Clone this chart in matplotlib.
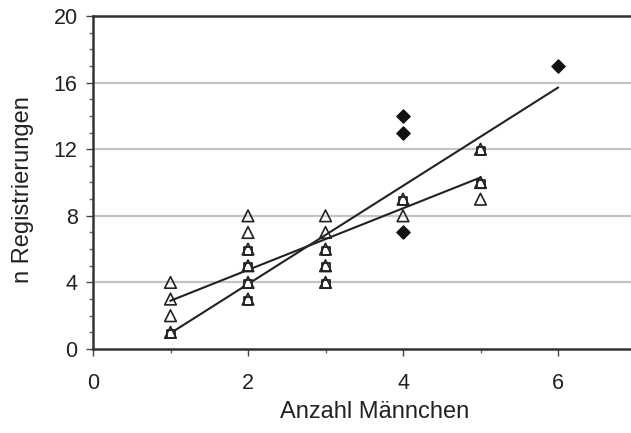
import matplotlib
matplotlib.use("Agg")
import matplotlib.pyplot as plt
import numpy as np

plt.rcParams['font.family'] = ['Liberation Sans', 'DejaVu Sans']

# Open triangles
tri_x = [1, 1, 1, 1, 2, 2, 2, 2, 2, 2, 3, 3, 3, 3, 3, 4, 4, 5, 5, 5]
tri_y = [1, 2, 3, 4, 3, 4, 5, 6, 7, 8, 4, 5, 6, 7, 8, 8, 9, 9, 10, 12]
# Open squares
sq_x = [1, 2, 2, 2, 2, 3, 3, 3, 4, 5, 5]
sq_y = [1, 3, 4, 5, 6, 4, 5, 6, 9, 10, 12]
# Filled diamonds
dia_x = [4, 4, 4, 6]
dia_y = [7, 13, 14, 17]

# Regression lines: (slope, intercept, x_start, x_end)
steep_fit = (2.95, -2.0, 1, 6)
shallow_fit = (1.85, 1.05, 1, 5)

xticks = [0, 2, 4, 6]
yticks = [0, 4, 8, 12, 16, 20]
xlabel = "Anzahl Männchen"
ylabel = "n Registrierungen"

fig = plt.figure(figsize=(6.31, 4.33), dpi=100)
ax = fig.add_axes([93/631, 1 - 349/433, 7*77.5/631, 333/433])

for y in yticks[1:-1]:
    ax.axhline(y, color='#c4c4c4', lw=1.6, zorder=0)

for m, b, x0, x1 in (steep_fit, shallow_fit):
    xs = np.array([x0, x1])
    ax.plot(xs, m*xs + b, color='#222222', lw=1.5, zorder=2)

ax.scatter(sq_x, np.array(sq_y) - 0.1, marker='s', s=28, facecolors='white', edgecolors='#222222', linewidths=1.3, zorder=3)
ax.scatter(tri_x, tri_y, marker='^', s=70, facecolors='none', edgecolors='#222222', linewidths=1.2, zorder=4)
ax.scatter(dia_x, dia_y, marker='D', s=45, color='#111111', zorder=4)

ax.set_xlim(0, 7)
ax.set_ylim(0, 20)
ax.set_xticks(xticks)
ax.set_xticks(range(0, 8), minor=True)
ax.set_yticks(yticks)
ax.set_yticks(range(0, 21), minor=True)
ax.tick_params(axis='both', which='major', direction='out', length=5, width=1, colors='#444444', labelsize=15.5, labelcolor='#222222')
ax.tick_params(axis='both', which='minor', direction='out', length=3, width=1, colors='#666666')
ax.tick_params(axis='x', pad=12)
ax.tick_params(axis='y', pad=6)

for s in ['top', 'left', 'bottom', 'right']:
    ax.spines[s].set_color('#333333')
    ax.spines[s].set_linewidth(1.8)

ax.set_xlabel(xlabel, fontsize=17, color='#222222')
ax.set_ylabel(ylabel, fontsize=17, color='#222222')
ax.xaxis.set_label_coords(0.52, -0.155)
ax.yaxis.set_label_coords(-0.108, 0.48)

fig.savefig("out.png", dpi=100)
